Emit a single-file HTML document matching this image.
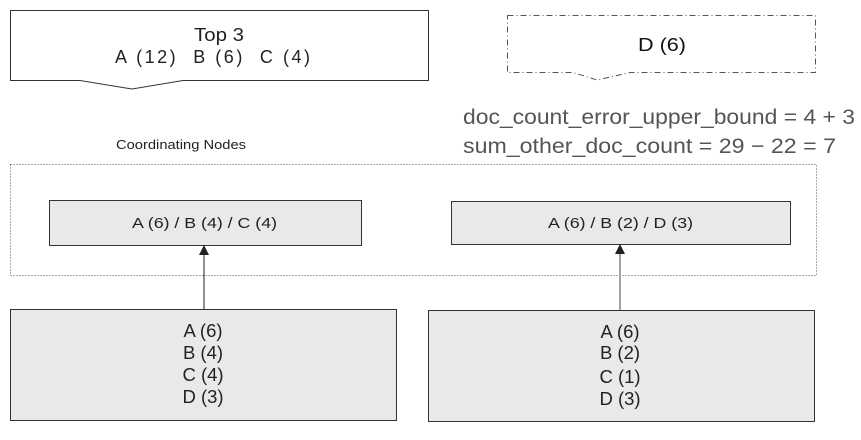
<!DOCTYPE html>
<html><head><meta charset="utf-8"><style>
html,body{margin:0;padding:0;background:#fff;width:861px;height:440px;overflow:hidden}
svg{display:block;font-family:"Liberation Sans",sans-serif}
</style></head><body>
<svg width="861" height="440" viewBox="0 0 861 440">
<defs><marker id="ah" viewBox="0 0 10 10" refX="9" refY="5" markerWidth="11" markerHeight="10" orient="auto" markerUnits="userSpaceOnUse"><path d="M0,0L10,5L0,10z" fill="#222"/></marker></defs>
<g>
<path d="M10.5,10.5H428.5V80.5H183L132,89L80,80.5H10.5Z" fill="#fff" stroke="#333" stroke-width="1"/>
<text x="194" y="41" font-size="18" fill="#222" textLength="50" lengthAdjust="spacingAndGlyphs">Top 3</text>
<text x="115" y="63" font-size="18" fill="#222" textLength="195" lengthAdjust="spacing" xml:space="preserve">A (12)  B (6)  C (4)</text>
</g>
<g>
<path d="M507.5,15.5H815.5V72.5H630L597,80L573,72.5H507.5Z" fill="#fff" stroke="#555" stroke-width="1" stroke-dasharray="6,3,1,3"/>
<text x="638" y="51" font-size="18" fill="#111" textLength="48" lengthAdjust="spacingAndGlyphs">D (6)</text>
</g>
<text x="463" y="124" font-size="21" fill="#555" textLength="392" lengthAdjust="spacingAndGlyphs">doc_count_error_upper_bound = 4 + 3</text>
<text x="463" y="153" font-size="21" fill="#555" textLength="373" lengthAdjust="spacingAndGlyphs">sum_other_doc_count = 29 − 22 = 7</text>
<text x="116" y="149" font-size="13" fill="#222" textLength="130" lengthAdjust="spacingAndGlyphs">Coordinating Nodes</text>
<rect x="10.5" y="164.5" width="806" height="111" fill="none" stroke="#555" stroke-width="1" stroke-dasharray="1,2"/>
<g>
<rect x="49.5" y="200.5" width="312" height="45" fill="#e8eaea" stroke="#333"/>
<text x="132" y="228" font-size="14.5" fill="#222" textLength="145" lengthAdjust="spacingAndGlyphs">A (6) / B (4) / C (4)</text>
</g>
<g>
<rect x="451.5" y="201.5" width="339" height="43" fill="#e8eaea" stroke="#333"/>
<text x="548" y="228" font-size="14.5" fill="#222" textLength="145" lengthAdjust="spacingAndGlyphs">A (6) / B (2) / D (3)</text>
</g>
<line x1="204" y1="309" x2="204" y2="246" stroke="#222" marker-end="url(#ah)"/>
<line x1="620" y1="310" x2="620" y2="245" stroke="#444" marker-end="url(#ah)"/>
<g font-size="18.5" fill="#222" text-anchor="middle">
<rect x="10.5" y="309.5" width="386" height="111" fill="#e8eaea" stroke="#333"/>
<text x="203" y="337">A (6)</text>
<text x="203" y="359">B (4)</text>
<text x="203" y="381">C (4)</text>
<text x="203" y="403">D (3)</text>
</g>
<g font-size="18.5" fill="#222" text-anchor="middle">
<rect x="428.5" y="310.5" width="386" height="111" fill="#e8eaea" stroke="#333"/>
<text x="620" y="338">A (6)</text>
<text x="620" y="359">B (2)</text>
<text x="620" y="383">C (1)</text>
<text x="620" y="405">D (3)</text>
</g>
</svg>
</body></html>
